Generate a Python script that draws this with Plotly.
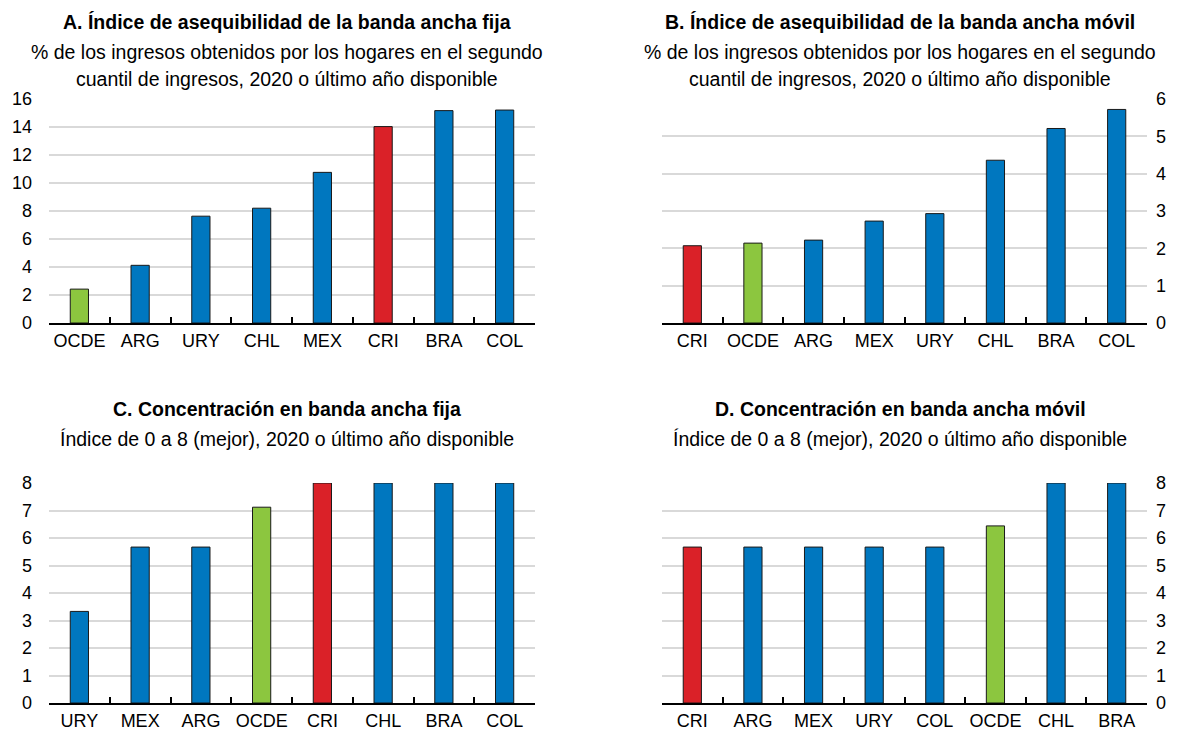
import plotly.graph_objects as go

W, H = 1179, 729
OFF = 8  # page body margin
FW, FH = W - OFF, H - OFF + 10

BLUE = "#0077BF"
RED = "#DA2128"
GREEN = "#8CC63F"

# Panel A
a_cats = ["OCDE", "ARG", "URY", "CHL", "MEX", "CRI", "BRA", "COL"]
a_vals = [2.42, 4.12, 7.63, 8.2, 10.76, 14.03, 15.17, 15.21]
# Panel B
b_cats = ["CRI", "OCDE", "ARG", "MEX", "URY", "CHL", "BRA", "COL"]
b_vals = [2.07, 2.14, 2.22, 2.73, 2.93, 4.36, 5.21, 5.72]
# Panel C
c_cats = ["URY", "MEX", "ARG", "OCDE", "CRI", "CHL", "BRA", "COL"]
c_vals = [3.33, 5.67, 5.67, 7.12, 8.0, 8.0, 8.0, 8.0]
# Panel D
d_cats = ["CRI", "ARG", "MEX", "URY", "COL", "OCDE", "CHL", "BRA"]
d_vals = [5.67, 5.67, 5.67, 5.67, 5.67, 6.44, 8.0, 8.0]

a_ticks = [0, 2, 4, 6, 8, 10, 12, 14, 16]
b_ticks = [0, 1, 2, 3, 4, 5, 6]
cd_ticks = [0, 1, 2, 3, 4, 5, 6, 7, 8]

titles = [
    ("A. Índice de asequibilidad de la banda ancha fija",
     ["% de los ingresos obtenidos por los hogares en el segundo",
      "cuantil de ingresos, 2020 o último año disponible"]),
    ("B. Índice de asequibilidad de la banda ancha móvil",
     ["% de los ingresos obtenidos por los hogares en el segundo",
      "cuantil de ingresos, 2020 o último año disponible"]),
    ("C. Concentración en banda ancha fija",
     ["Índice de 0 a 8 (mejor), 2020 o último año disponible"]),
    ("D. Concentración en banda ancha móvil",
     ["Índice de 0 a 8 (mejor), 2020 o último año disponible"]),
]

FONT = "Liberation Sans Narrow, Arial Narrow, Liberation Sans, Arial, sans-serif"
TITLE_SIZE = 19.5
TICK_SIZE = 18


def color_for(c):
    if c == "CRI":
        return RED
    if c == "OCDE":
        return GREEN
    return BLUE


def px_x(x):
    return (x - OFF) / FW


def px_y(y):
    return 1 - (y - OFF) / FH


fig = go.Figure()

panels = [
    (a_cats, a_vals, a_ticks, [0, 16], "left", (49, 535), (99, 323), 287),
    (b_cats, b_vals, b_ticks, [0, 6], "right", (662, 1147), (99, 323), 900),
    (c_cats, c_vals, cd_ticks, [0, 8], "left", (49, 535), (483, 703), 287),
    (d_cats, d_vals, cd_ticks, [0, 8], "right", (662, 1147), (483, 703), 900),
]

layout_axes = {}
annotations = []
for i, (cats, vals, ticks, rng, side, (x0, x1), (y0, y1), tcx) in enumerate(panels):
    n = "" if i == 0 else str(i + 1)
    fig.add_trace(go.Bar(
        x=cats, y=vals,
        marker=dict(color=[color_for(c) for c in cats],
                    line=dict(color="#1a1a1a", width=1)),
        xaxis="x" + n, yaxis="y" + n,
        showlegend=False,
    ))
    layout_axes["xaxis" + n] = dict(
        domain=[px_x(x0), px_x(x1)], anchor="y" + n,
        showline=True, linecolor="black", linewidth=2,
        ticks="inside", tickson="boundaries", ticklen=6, tickwidth=2,
        tickcolor="black", showgrid=False, tickangle=0, automargin=False,
        tickfont=dict(size=TICK_SIZE, color="black", family=FONT),
        fixedrange=True,
    )
    layout_axes["yaxis" + n] = dict(
        domain=[px_y(y1), px_y(y0)], anchor="x" + n,
        range=rng, tickvals=ticks, side=side, automargin=False,
        showline=False, ticks="", showgrid=True,
        gridcolor="#D9D9D9", gridwidth=2, zeroline=False,
        ticklabelstandoff=16 if side == "left" else 8,
        tickfont=dict(size=TICK_SIZE, color="black", family=FONT),
        fixedrange=True,
    )
    title, subs = titles[i]
    ty = 22 if i < 2 else 409
    annotations.append(dict(
        text="<b>" + title + "</b>", x=px_x(tcx), y=px_y(ty),
        xref="paper", yref="paper", xanchor="center", yanchor="middle",
        showarrow=False, font=dict(size=TITLE_SIZE, color="black", family=FONT),
    ))
    for j, s in enumerate(subs):
        annotations.append(dict(
            text=s, x=px_x(tcx), y=px_y(ty + 30 + 27 * j),
            xref="paper", yref="paper", xanchor="center", yanchor="middle",
            showarrow=False, font=dict(size=TITLE_SIZE, color="black", family=FONT),
        ))

fig.update_layout(
    width=FW, height=FH,
    margin=dict(l=0, r=0, t=0, b=0),
    paper_bgcolor="white", plot_bgcolor="white",
    bargap=0.70,
    annotations=annotations,
    font=dict(family=FONT, color="black"),
    **layout_axes,
)

fig.write_html("out.html", config={"displayModeBar": False})
